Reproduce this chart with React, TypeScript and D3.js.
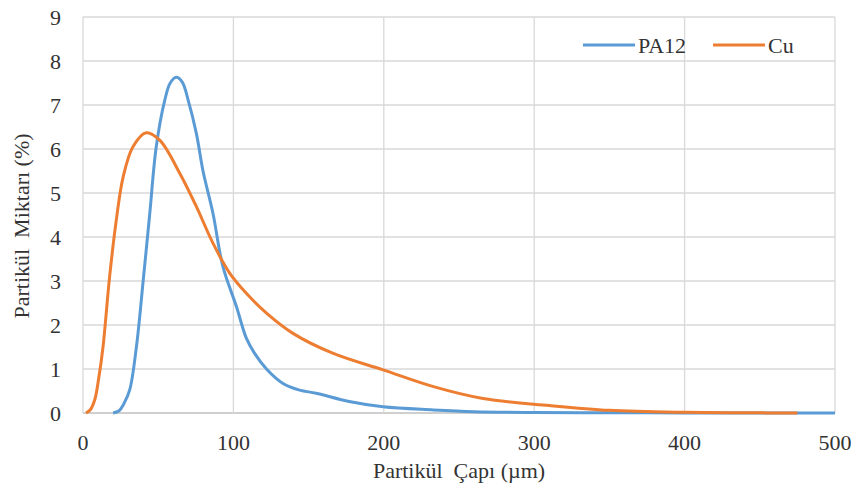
import React from "react";
import * as d3 from "d3";

const xTicks = [0, 100, 200, 300, 400, 500];
const yTicks = [0, 1, 2, 3, 4, 5, 6, 7, 8, 9];

const pa12X = [20, 24, 27, 31, 35.5, 40, 44.3, 48.7, 54.3, 58, 62, 66, 70, 75.4, 79.8, 86.4, 93, 102, 108.6, 114, 122, 133, 144, 155, 177, 199.5, 233, 260, 300, 350, 400, 450, 500];
const pa12Y = [0, 0.05, 0.2, 0.52, 1.5, 3.0, 4.5, 6.05, 7.1, 7.5, 7.63, 7.52, 7.1, 6.35, 5.5, 4.54, 3.33, 2.42, 1.7, 1.36, 1.0, 0.67, 0.52, 0.45, 0.26, 0.14, 0.07, 0.03, 0.012, 0.005, 0.002, 0.0, 0.0];

const cuX = [2, 5, 7.8, 10.5, 13.3, 17.7, 22.2, 26.6, 33.2, 42, 51, 64.3, 75.4, 86.4, 97.5, 108.6, 122, 139.6, 166, 199.5, 233, 266, 310, 350, 400, 440, 475];
const cuY = [0, 0.08, 0.3, 0.8, 1.5, 3.1, 4.4, 5.35, 6.05, 6.37, 6.2, 5.45, 4.69, 3.86, 3.18, 2.72, 2.27, 1.81, 1.36, 0.98, 0.6, 0.33, 0.17, 0.06, 0.015, 0.005, 0.0];

const seriesNames = ["PA12", "Cu"];
const colors = ["#5B9BD5", "#ED7D31"];

export default function App() {
  const W = 858, H = 489;
  const left = 83, right = 835, top = 17, bottom = 413;
  const x = d3.scaleLinear().domain([0, 500]).range([left, right]);
  const y = d3.scaleLinear().domain([0, 9]).range([bottom, top]);
  const line = d3.line<[number, number]>().x(d => x(d[0])).y(d => Math.min(y(d[1]), bottom)).curve(d3.curveCatmullRom.alpha(0.5));
  const pa = pa12X.map((v, i) => [v, pa12Y[i]] as [number, number]);
  const cu = cuX.map((v, i) => [v, cuY[i]] as [number, number]);
  const font = "'Liberation Serif', 'Times New Roman', serif";
  return (
    <svg width={W} height={H} style={{ position: "absolute", left: 0, top: 0, background: "#fff" }} fontFamily={font}>
      <rect x={0} y={0} width={W} height={H} fill="#fff" />
      {yTicks.map(t => (
        <line key={"h" + t} x1={left} x2={right} y1={y(t)} y2={y(t)} stroke={t === 0 ? "#bfbfbf" : "#d9d9d9"} strokeWidth={1.3} />
      ))}
      {xTicks.map(t => (
        <line key={"v" + t} x1={x(t)} x2={x(t)} y1={top} y2={bottom} stroke="#d9d9d9" strokeWidth={1.3} />
      ))}
      {yTicks.map(t => (
        <text key={"yl" + t} x={61} y={y(t)} dy="0.35em" textAnchor="end" fontSize={22} fill="#333">{t}</text>
      ))}
      {xTicks.map(t => (
        <text key={"xl" + t} x={x(t)} y={450} textAnchor="middle" fontSize={22} fill="#333">{t}</text>
      ))}
      <text x={459} y={478} textAnchor="middle" fontSize={22} fill="#333" style={{ whiteSpace: "pre" }}>{"Partikül  Çapı (µm)"}</text>
      <text transform={`translate(29,226) rotate(-90)`} textAnchor="middle" fontSize={22} fill="#333" style={{ whiteSpace: "pre" }}>{"Partikül  Miktarı (%)"}</text>
      <path d={line(pa) || ""} fill="none" stroke={colors[0]} strokeWidth={3} strokeLinejoin="round" />
      <path d={line(cu) || ""} fill="none" stroke={colors[1]} strokeWidth={3} strokeLinejoin="round" />
      {seriesNames.map((n, i) => {
        const lx = i === 0 ? 583 : 713;
        return (
          <g key={n}>
            <line x1={lx} x2={lx + 52} y1={45} y2={45} stroke={colors[i]} strokeWidth={3} />
            <text x={lx + 55} y={45} dy="0.35em" fontSize={22} fill="#333">{n}</text>
          </g>
        );
      })}
    </svg>
  );
}
